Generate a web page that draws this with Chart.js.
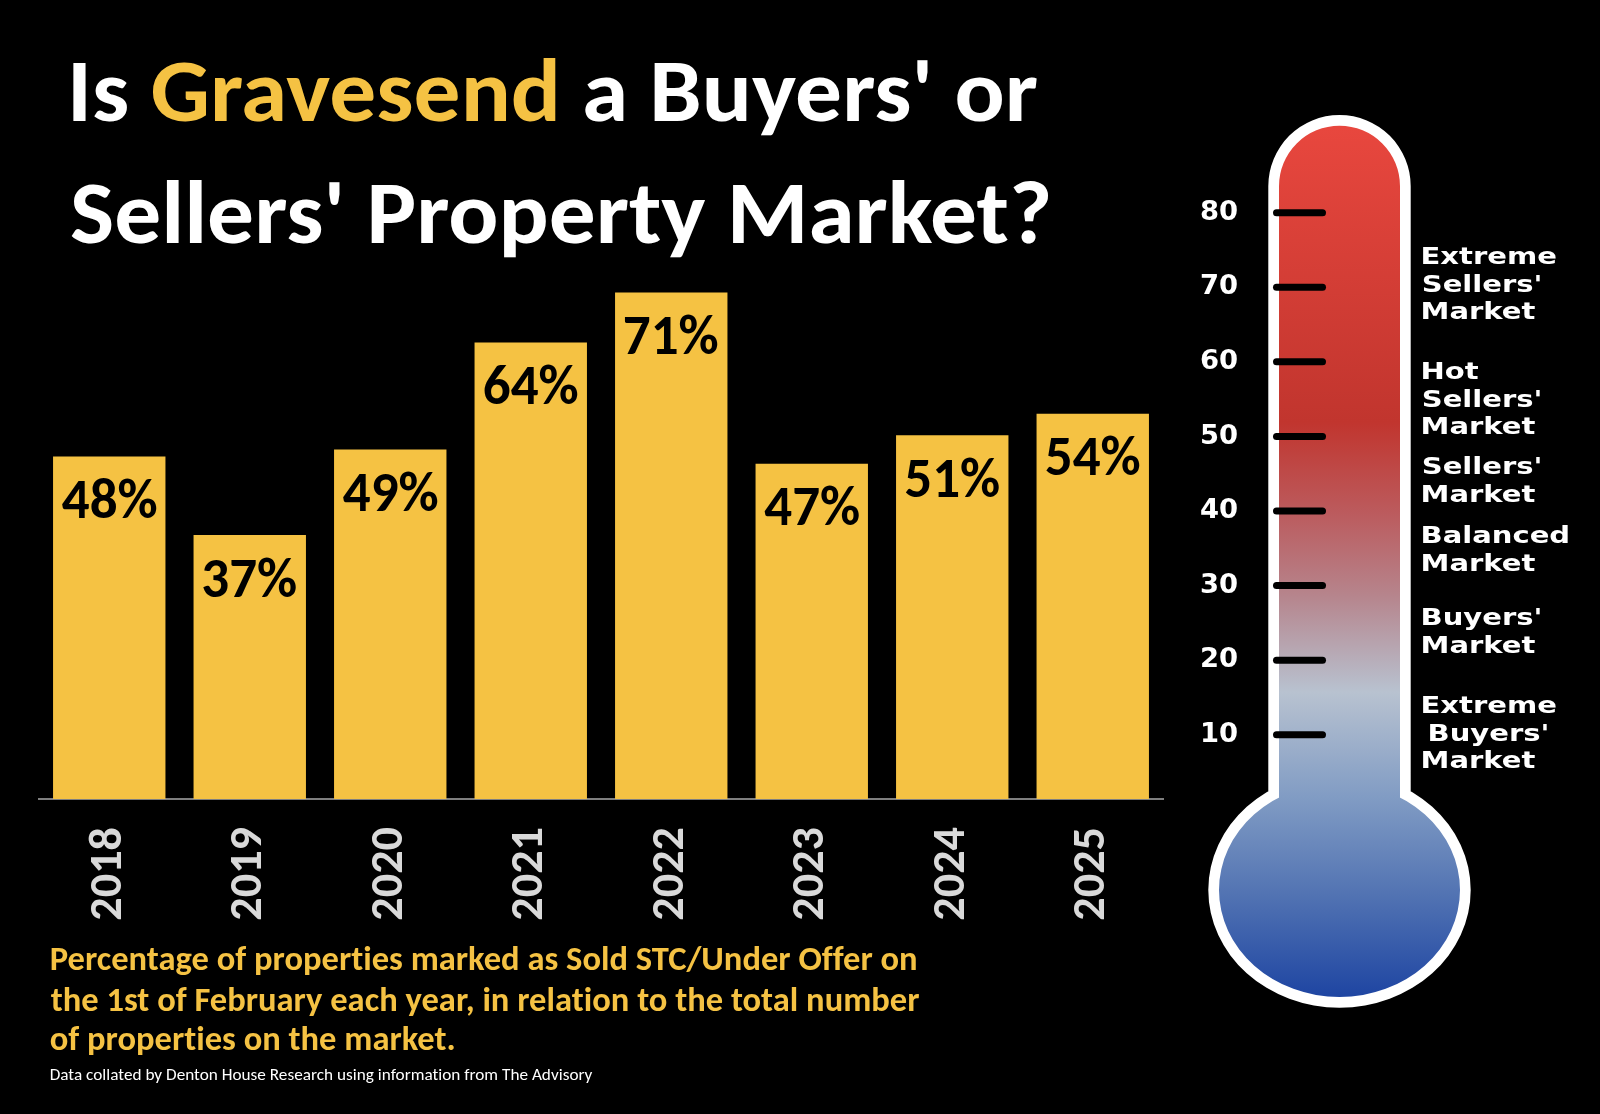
<!DOCTYPE html>
<html>
<head>
<meta charset="utf-8">
<title>Is Gravesend a Buyers' or Sellers' Property Market?</title>
<script src="https://cdn.jsdelivr.net/npm/chart.js@4.4.1/dist/chart.umd.min.js"></script>
<style>
  html, body { margin: 0; padding: 0; background: #000; }
  #wrap { position: relative; width: 1600px; height: 1114px; }
  canvas { display: block; }
</style>
</head>
<body>
<div id="wrap"><canvas id="marketChart" width="1600" height="1114"></canvas></div>
<script>
// ---- data ----
var years = ['2018', '2019', '2020', '2021', '2022', '2023', '2024', '2025'];
var soldPct = [48, 37, 49, 64, 71, 47, 51, 54];
var thermoTicks = [10, 20, 30, 40, 50, 60, 70, 80];
var marketBands = [
    ['Extreme', "Sellers'", 'Market'],
    ['Hot', "Sellers'", 'Market'],
    ["Sellers'", 'Market'],
    ['Balanced', 'Market'],
    ["Buyers'", 'Market'],
    ['Extreme', " Buyers'", 'Market']
];
var titleLine1 = ['Is ', 'Gravesend', " a Buyers' or"];
var titleLine2 = "Sellers' Property Market?";
var noteLines = [
    'Percentage of properties marked as Sold STC/Under Offer on',
    'the 1st of February each year, in relation to the total number',
    'of properties on the market.'
];
var sourceNote = 'Data collated by Denton House Research using information from The Advisory';

// ---- look ----
var YELLOW = '#f5c243';
var CAL = 'Carlito, "Open Sans", sans-serif';
var WIDE = '"DejaVu Sans", sans-serif';

var measureCtx = document.createElement('canvas').getContext('2d');

// font size (px) giving the wanted cap height
function sizeForCap(weight, family, capPx) {
    measureCtx.font = weight + ' 100px ' + family;
    var h = measureCtx.measureText('H').actualBoundingBoxAscent;
    return Math.round(1000 * capPx / h) / 10;
}

function noLigatures(ctx) {
    // a tiny letter spacing switches off the "ti"/"ft" ligatures of Carlito
    if ('letterSpacing' in ctx) ctx.letterSpacing = '0.01px';
}

function inkWidth(ctx, text) {
    var m = ctx.measureText(text);
    return m.actualBoundingBoxLeft + m.actualBoundingBoxRight;
}

// draw text with its ink starting at inkLeft, stretched by k horizontally
function drawStretched(ctx, text, inkLeft, baseline, k) {
    var m = ctx.measureText(text);
    ctx.save();
    ctx.translate(inkLeft, baseline);
    ctx.scale(k, 1);
    ctx.fillText(text, m.actualBoundingBoxLeft, 0);
    ctx.restore();
}

var xTickSize = sizeForCap('bold', CAL, 30);
var thermoTickSize = sizeForCap('bold', WIDE, 20);

// thermometer geometry
var TH = { cx: 1339.5, topCy: 186.2, outerR: 71.2, innerR: 60.5,
           bulbCy: 890, outerRx: 131.2, outerRy: 117.7, innerRx: 120.5, innerRy: 107 };

function thermoPath(ctx, r, rx, ry) {
    ctx.beginPath();
    ctx.moveTo(TH.cx - r, TH.bulbCy);
    ctx.lineTo(TH.cx - r, TH.topCy);
    ctx.arc(TH.cx, TH.topCy, r, Math.PI, 0, false);
    ctx.lineTo(TH.cx + r, TH.bulbCy);
    ctx.closePath();
    ctx.moveTo(TH.cx + rx, TH.bulbCy);
    ctx.ellipse(TH.cx, TH.bulbCy, rx, ry, 0, 0, Math.PI * 2, false);
}

var thermometerPlugin = {
    id: 'thermometer',
    afterDraw: function(chart) {
        var ctx = chart.ctx;
        var y2 = chart.scales.y2;
        ctx.save();
        ctx.fillStyle = '#ffffff';
        thermoPath(ctx, TH.outerR, TH.outerRx, TH.outerRy);
        ctx.fill('nonzero');

        var g = ctx.createLinearGradient(0, 126, 0, 997);
        g.addColorStop(0.00, '#e8473e');
        g.addColorStop(0.34, '#c1352e');
        g.addColorStop(0.45, '#bb5d60');
        g.addColorStop(0.54, '#b6858d');
        g.addColorStop(0.65, '#b8c2d0');
        g.addColorStop(0.77, '#819cc4');
        g.addColorStop(0.88, '#5374b3');
        g.addColorStop(1.00, '#1e45a2');
        ctx.fillStyle = g;
        thermoPath(ctx, TH.innerR, TH.innerRx, TH.innerRy);
        ctx.fill('nonzero');

        // tick marks on the tube, placed through the thermometer scale
        ctx.strokeStyle = '#000000';
        ctx.lineWidth = 7;
        ctx.lineCap = 'round';
        thermoTicks.forEach(function(v) {
            var y = y2.getPixelForValue(v);
            ctx.beginPath();
            ctx.moveTo(1276.5, y);
            ctx.lineTo(1322.5, y);
            ctx.stroke();
        });

        // market bands beside the tube
        var bandSize = sizeForCap('bold', WIDE, 17);
        ctx.font = 'bold ' + bandSize + 'px ' + WIDE;
        ctx.fillStyle = '#ffffff';
        ctx.textAlign = 'left';
        ctx.textBaseline = 'alphabetic';
        var kBand = 145 / inkWidth(ctx, 'Balanced');
        var firstBaselines = [264, 379, 474, 543, 625, 713];
        marketBands.forEach(function(lines, gi) {
            lines.forEach(function(t, li) {
                var lead = t.charAt(0) === ' ' ? 7 : 0;
                drawStretched(ctx, t.trim(), 1423 + lead, firstBaselines[gi] + li * 27.5, kBand);
            });
        });
        ctx.restore();
    }
};

var barValuePlugin = {
    id: 'barValues',
    afterDatasetsDraw: function(chart) {
        var ctx = chart.ctx;
        var meta = chart.getDatasetMeta(0);
        var size = sizeForCap('bold', CAL, 36.5);
        ctx.save();
        ctx.font = 'bold ' + size + 'px ' + CAL;
        ctx.fillStyle = '#000000';
        ctx.textAlign = 'left';
        ctx.textBaseline = 'alphabetic';
        var k = 95 / inkWidth(ctx, '48%');
        meta.data.forEach(function(bar, i) {
            var txt = soldPct[i] + '%';
            var w = inkWidth(ctx, txt) * k;
            drawStretched(ctx, txt, bar.x - w / 2, bar.y + 61.5, k);
        });
        ctx.restore();
    }
};

var posterTextPlugin = {
    id: 'posterText',
    afterDraw: function(chart) {
        var ctx = chart.ctx;
        ctx.save();
        ctx.textAlign = 'left';
        ctx.textBaseline = 'alphabetic';
        noLigatures(ctx);

        // title, two lines, middle word in yellow
        var tSize = sizeForCap('bold', CAL, 58.3);
        ctx.font = 'bold ' + tSize + 'px ' + CAL;
        var full1 = titleLine1.join('');
        var kT = 963.7 / inkWidth(ctx, full1);
        var m1 = ctx.measureText(full1);
        ctx.save();
        ctx.translate(73.3, 121);
        ctx.scale(kT, 1);
        var cur = m1.actualBoundingBoxLeft;
        titleLine1.forEach(function(part, i) {
            ctx.fillStyle = i === 1 ? YELLOW : '#ffffff';
            ctx.fillText(part, cur, 0);
            cur += ctx.measureText(part).width;
        });
        ctx.restore();
        ctx.fillStyle = '#ffffff';
        drawStretched(ctx, titleLine2, 71, 243.3, kT);

        // explanatory note
        var nSize = sizeForCap('bold', CAL, 21.7);
        ctx.font = 'bold ' + nSize + 'px ' + CAL;
        ctx.fillStyle = YELLOW;
        var kN = 866 / inkWidth(ctx, noteLines[0]);
        var noteBase = [970, 1010.5, 1049.5];
        noteLines.forEach(function(t, i) {
            drawStretched(ctx, t, 50.7, noteBase[i], kN);
        });

        // source line
        var sSize = sizeForCap('normal', CAL, 11);
        ctx.font = sSize + 'px ' + CAL;
        ctx.fillStyle = '#ffffff';
        var kS = 542 / inkWidth(ctx, sourceNote);
        drawStretched(ctx, sourceNote, 50.7, 1080, kS);
        ctx.restore();
    }
};

var bgPlugin = {
    id: 'bg',
    beforeDraw: function(chart) {
        var ctx = chart.ctx;
        ctx.save();
        ctx.fillStyle = '#000000';
        ctx.fillRect(0, 0, chart.width, chart.height);
        ctx.restore();
    }
};

new Chart(document.getElementById('marketChart'), {
    type: 'bar',
    data: {
        labels: years,
        datasets: [{
            label: 'Sold STC / Under Offer (%)',
            data: soldPct,
            backgroundColor: YELLOW,
            borderWidth: 0,
            barPercentage: 0.8,
            categoryPercentage: 1.0,
            yAxisID: 'y'
        }]
    },
    options: {
        responsive: false,
        animation: false,
        devicePixelRatio: 1,
        layout: { padding: { left: 39, top: 157, right: 0, bottom: 0 } },
        plugins: {
            legend: { display: false },
            title: { display: false },
            tooltip: { enabled: false }
        },
        scales: {
            x: {
                position: 'bottom',
                grid: { display: false, drawTicks: false },
                border: { display: true, color: '#7f7f7f', width: 2 },
                ticks: {
                    color: '#d9d9d9',
                    font: { family: CAL, size: xTickSize, weight: 'bold' },
                    minRotation: 90,
                    maxRotation: 90,
                    autoSkip: false,
                    padding: 28
                },
                afterFit: function(s) { s.height = 315; }
            },
            y: {
                display: false,
                min: 0,
                max: 90
            },
            y2: {
                type: 'linear',
                position: 'right',
                min: 1.38,
                max: 87.47,
                grid: { display: false, drawTicks: false },
                border: { display: false },
                ticks: {
                    color: '#ffffff',
                    font: { family: WIDE, size: thermoTickSize, weight: 'bold' },
                    padding: 37,
                    crossAlign: 'center'
                },
                afterBuildTicks: function(s) {
                    s.ticks = thermoTicks.map(function(v) { return { value: v }; });
                },
                afterFit: function(s) { s.width = 437; }
            }
        }
    },
    plugins: [bgPlugin, barValuePlugin, thermometerPlugin, posterTextPlugin]
});
</script>
</body>
</html>
